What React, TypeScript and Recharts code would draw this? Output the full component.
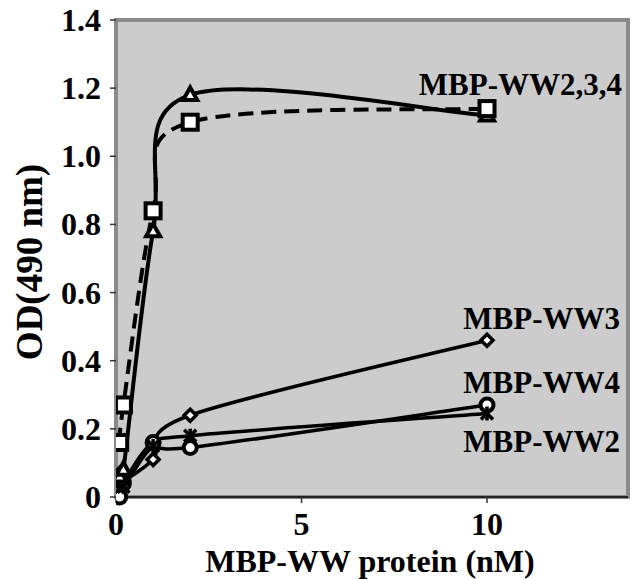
import React from 'react';
import { LineChart, Line, XAxis, YAxis, ReferenceArea } from 'recharts';

// ---- data ----
const concentrations = [0.1, 0.2, 1, 2, 10]; // MBP-WW protein (nM)
const ww234Squares = [0.16, 0.27, 0.84, 1.1, 1.14];
const ww234Triangles = [0.06, 0.08, 0.78, 1.18, 1.12];
const ww3Diamonds = [0.07, 0.05, 0.11, 0.24, 0.46];
const ww4Circles = [0.0, 0.04, 0.16, 0.145, 0.27];
const ww2Stars = [0.05, 0.03, 0.15, 0.18, 0.245];

const xTicks = [0, 5, 10];
const yTicks = [0, 0.2, 0.4, 0.6, 0.8, 1.0, 1.2, 1.4];
const seriesLabels = ['MBP-WW2,3,4', 'MBP-WW3', 'MBP-WW4', 'MBP-WW2'];
const xTitle = 'MBP-WW protein (nM)';
const yTitle = 'OD(490 nm)';

const toPoints = (ys: number[]) => concentrations.map((x, i) => ({ x, y: ys[i] }));

const FONT = '"Liberation Serif", "Times New Roman", serif';

// Excel-like smoothed curve (Catmull-Rom Bezier through points)
const smoothCurve: any = (context: any) => {
  let pts: number[][] = [];
  return {
    areaStart() {},
    areaEnd() {},
    lineStart() {
      pts = [];
    },
    point(x: number, y: number) {
      pts.push([+x, +y]);
    },
    lineEnd() {
      const n = pts.length;
      if (!n) return;
      context.moveTo(pts[0][0], pts[0][1]);
      if (n === 1) return;
      const t = 1 / 6;
      for (let i = 0; i < n - 1; i++) {
        const p0 = pts[i - 1] || pts[i];
        const p1 = pts[i];
        const p2 = pts[i + 1];
        const p3 = pts[i + 2] || pts[i + 1];
        context.bezierCurveTo(
          p1[0] + (p2[0] - p0[0]) * t,
          p1[1] + (p2[1] - p0[1]) * t,
          p2[0] - (p3[0] - p1[0]) * t,
          p2[1] - (p3[1] - p1[1]) * t,
          p2[0],
          p2[1]
        );
      }
    },
  };
};

const SquareDot = (props: any) => {
  const { cx, cy, index } = props;
  const s = 15;
  return <rect key={`sq${index}`} x={cx - s / 2} y={cy - s / 2} width={s} height={s} fill="#fff" stroke="#000" strokeWidth={4} />;
};
const TriangleDot = (props: any) => {
  const { cx, cy, index } = props;
  return (
    <path
      key={`tr${index}`}
      d={`M${cx},${cy - 7.5} L${cx + 7},${cy + 5} L${cx - 7},${cy + 5} Z`}
      fill="#fff"
      stroke="#000"
      strokeWidth={4}
      strokeLinejoin="miter"
    />
  );
};
const CircleDot = (props: any) => {
  const { cx, cy, index } = props;
  return <circle key={`ci${index}`} cx={cx} cy={cy} r={6.5} fill="#fff" stroke="#000" strokeWidth={4} />;
};
const DiamondDot = (props: any) => {
  const { cx, cy, index } = props;
  const r = 6;
  return (
    <path
      key={`di${index}`}
      d={`M${cx},${cy - r} L${cx + r},${cy} L${cx},${cy + r} L${cx - r},${cy} Z`}
      fill="#fff"
      stroke="#000"
      strokeWidth={3.5}
    />
  );
};
const StarDot = (props: any) => {
  const { cx, cy, index } = props;
  const r = 6;
  return (
    <g key={`st${index}`} stroke="#000" strokeWidth={3.5}>
      <line x1={cx - r} y1={cy - r} x2={cx + r} y2={cy + r} />
      <line x1={cx - r} y1={cy + r} x2={cx + r} y2={cy - r} />
      <line x1={cx} y1={cy - r - 1} x2={cx} y2={cy + r + 1} />
    </g>
  );
};

const XTick = (props: any) => {
  const { x, payload } = props;
  return (
    <text x={x} y={535} textAnchor="middle" fontFamily={FONT} fontWeight="bold" fontSize={32} fill="#000">
      {payload.value}
    </text>
  );
};
const YTick = (props: any) => {
  const { y, payload } = props;
  const v = payload.value as number;
  return (
    <text x={101} y={y + 11} textAnchor="end" fontFamily={FONT} fontWeight="bold" fontSize={32} fill="#000">
      {v === 0 ? '0' : v.toFixed(1)}
    </text>
  );
};

const Texts = () => (
  <svg width={634} height={579} style={{ position: 'absolute', left: 0, top: 0, pointerEvents: 'none' }}>
    <g fontFamily={FONT} fontWeight="bold" fill="#000">
      <text x={622} y={95} textAnchor="end" fontSize={31}>{seriesLabels[0]}</text>
      <text x={620} y={329} textAnchor="end" fontSize={31}>{seriesLabels[1]}</text>
      <text x={620} y={393} textAnchor="end" fontSize={31}>{seriesLabels[2]}</text>
      <text x={620} y={452} textAnchor="end" fontSize={31}>{seriesLabels[3]}</text>
      <text x={370} y={572} textAnchor="middle" fontSize={32}>{xTitle}</text>
      <text x={0} y={0} textAnchor="middle" fontSize={37} transform="translate(42,262) rotate(-90)">{yTitle}</text>
    </g>
  </svg>
);

export default function App() {
  const lineCommon = {
    dataKey: 'y',
    stroke: '#000',
    strokeWidth: 4,
    type: smoothCurve,
    isAnimationActive: false,
    activeDot: false,
    legendType: 'none' as const,
  };
  return (
    <div style={{ position: 'absolute', left: 0, top: 0, width: 634, height: 579, background: '#fff' }}>
      <LineChart width={634} height={579} margin={{ top: 20, right: 6, bottom: 0, left: 0 }}>
        <ReferenceArea x1={0} x2={13.8} y1={0} y2={1.4} fill="#cccccc" fillOpacity={1} stroke="#8a8a8a" strokeWidth={4} ifOverflow="visible" />
        <XAxis
          dataKey="x"
          type="number"
          domain={[0, 13.8]}
          ticks={xTicks}
          allowDataOverflow
          height={82}
          tick={<XTick />}
          tickSize={6}
          tickLine={{ stroke: '#333', strokeWidth: 1.5 }}
          axisLine={{ stroke: '#222', strokeWidth: 2 }}
        />
        <YAxis
          type="number"
          domain={[0, 1.4]}
          ticks={yTicks}
          width={116}
          tick={<YTick />}
          tickSize={6}
          tickLine={{ stroke: '#333', strokeWidth: 1.5 }}
          axisLine={false}
        />
        <Line {...lineCommon} data={toPoints(ww4Circles)} strokeWidth={3.5} dot={<CircleDot />} />
        <Line {...lineCommon} data={toPoints(ww2Stars)} strokeWidth={3.5} dot={<StarDot />} />
        <Line {...lineCommon} data={toPoints(ww3Diamonds)} strokeWidth={3.5} dot={<DiamondDot />} />
        <Line {...lineCommon} data={toPoints(ww234Triangles)} dot={<TriangleDot />} />
        <Line {...lineCommon} data={toPoints(ww234Squares)} strokeDasharray="15 8" dot={<SquareDot />} />
      </LineChart>
      <Texts />
    </div>
  );
}
